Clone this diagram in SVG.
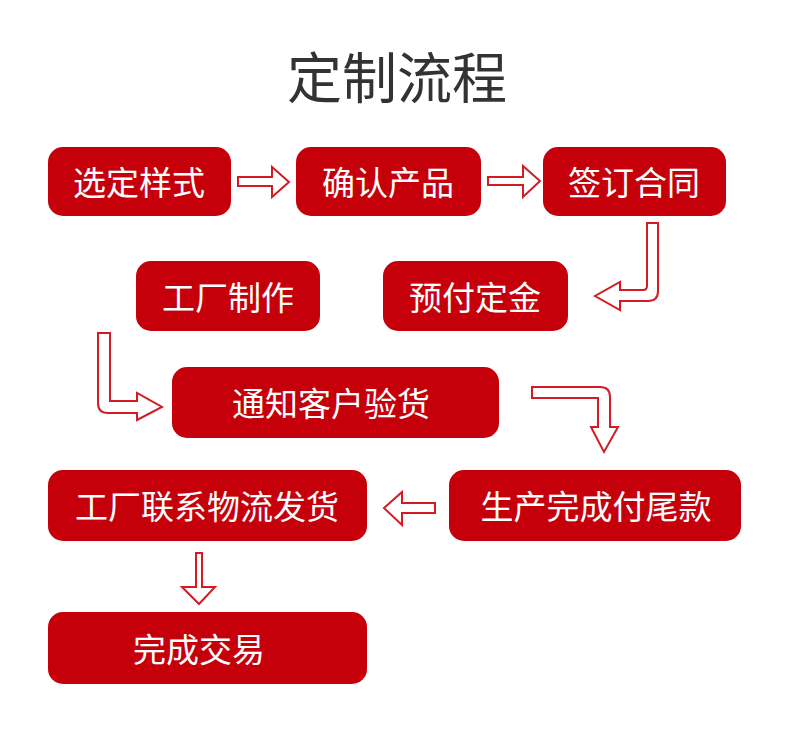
<svg xmlns="http://www.w3.org/2000/svg" width="790" height="738" viewBox="0 0 790 738">
<style>
.box{fill:#c6000b}
.lbl{fill:#ffffff;font-family:"Noto Sans CJK SC","Noto Sans CJK JP",sans-serif;font-size:33px;text-anchor:middle;dominant-baseline:central}
.arr{fill:#ffffff;stroke:#d41a22;stroke-width:2;stroke-linejoin:miter}
.title{fill:#333333;font-family:"Noto Sans CJK SC","Noto Sans CJK JP",sans-serif;font-size:55px;text-anchor:middle;dominant-baseline:central}
</style>
<rect width="790" height="738" fill="#ffffff"/>
<text class="title" x="397" y="74">定制流程</text>
<g id="n1"><rect class="box" x="48" y="147" width="183" height="69" rx="15"/><text class="lbl" x="139" y="181">选定样式</text></g>
<g id="n2"><rect class="box" x="296" y="147" width="185" height="69" rx="15"/><text class="lbl" x="388" y="181">确认产品</text></g>
<g id="n3"><rect class="box" x="543" y="147" width="183" height="69" rx="15"/><text class="lbl" x="634" y="181">签订合同</text></g>
<g id="n4"><rect class="box" x="136" y="261" width="184" height="70" rx="15"/><text class="lbl" x="228" y="296">工厂制作</text></g>
<g id="n5"><rect class="box" x="383" y="261" width="185" height="70" rx="15"/><text class="lbl" x="475" y="296">预付定金</text></g>
<g id="n6"><rect class="box" x="172" y="367" width="327" height="71" rx="15"/><text class="lbl" x="331" y="402">通知客户验货</text></g>
<g id="n7"><rect class="box" x="48" y="470" width="319" height="71" rx="15"/><text class="lbl" x="207" y="505">工厂联系物流发货</text></g>
<g id="n8"><rect class="box" x="449" y="470" width="292" height="71" rx="15"/><text class="lbl" x="596" y="505">生产完成付尾款</text></g>
<g id="n9"><rect class="box" x="48" y="612" width="319" height="72" rx="15"/><text class="lbl" x="199" y="648">完成交易</text></g>
<g id="connectors">
<path class="arr" d="M238,177 L272,177 L272,167 L289,182 L272,197 L272,186 L238,186 Z"/>
<path class="arr" d="M488,177 L523,177 L523,166 L540,181 L523,197 L523,185 L488,185 Z"/>
<path class="arr" d="M647,223 L658,223 L658,291 Q658,301 648,301 L620,301 L620,310 L595,296 L620,282 L620,290 L643,290 Q647,290 647,286 Z"/>
<path class="arr" d="M98,333 L110,333 L110,401 L137,401 L137,393 L162,407 L137,420 L137,413 L108,413 Q98,413 98,403 Z"/>
<path class="arr" d="M532,387 L600,387 Q610,387 610,397 L610,427 L618,427 L604,452 L591,427 L598,427 L598,398 L532,398 Z"/>
<path class="arr" d="M435,503 L402,503 L402,492 L384,508 L402,525 L402,513 L435,513 Z"/>
<path class="arr" d="M196,553 L202,553 L202,587 L215,587 L199,604 L182,587 L196,587 Z"/>
</g>
</svg>
